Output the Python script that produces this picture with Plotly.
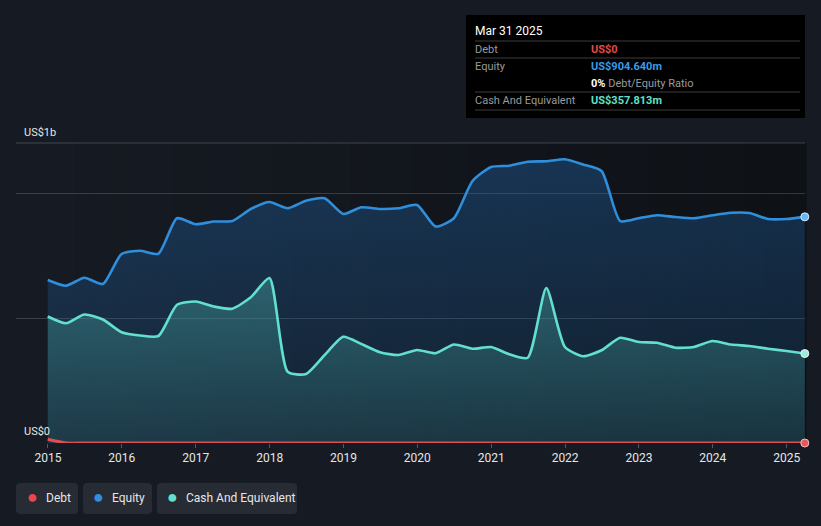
import plotly.graph_objects as go
import pandas as pd

# ---------------- data ----------------
dates = [d.strftime("%Y-%m-%d") for d in pd.date_range("2014-12-31", "2025-03-31", freq="QE")]

equity = [652, 629, 661, 636, 756, 769, 757, 899, 875, 886, 888, 936, 964, 939,
          969, 979, 916, 943, 936, 939, 952, 866, 899, 1048, 1104, 1109, 1125, 1127,
          1135, 1114, 1088, 888, 899, 911, 904, 899, 911, 921, 920, 896, 896, 904.64]

cash = [506, 479, 514, 494, 443, 430, 428, 553, 566, 546, 537, 583, 660, 285,
        276, 352, 425, 396, 363, 352, 372, 359, 394, 377, 384, 355, 341, 620,
        384, 347, 371, 421, 404, 401, 381, 384, 408, 394, 388, 377, 368, 357.813]

debt = [15] + [0] * 41

series_names = ["Debt", "Equity", "Cash And Equivalent"]
year_ticks = [f"{y}-01-01" for y in range(2015, 2026)]
y_labels = ["US$1b", "US$0"]

# ---------------- style ----------------
W, H = 821, 526
L, R, T, B = 16, 16, 143, 83
BG = "#151a23"
EQ_C = "#2f8fdc"
CASH_C = "#62e0cd"
DEBT_C = "#dc4f52"
FONT = "Roboto"


def px(x):
    return (x - L) / (W - L - R)


def py(y):
    return (H - B - y) / (H - T - B)


fig = go.Figure()

fig.add_trace(go.Scatter(
    x=dates, y=equity, mode="lines", name=series_names[1],
    line=dict(color=EQ_C, width=2.6, shape="spline", smoothing=0.6),
    fill="tozeroy",
    fillgradient=dict(type="vertical", start=0, stop=1150,
                      colorscale=[[0, "rgba(30,95,160,0.16)"], [1, "rgba(35,110,185,0.36)"]]),
    hoverinfo="skip"))

fig.add_trace(go.Scatter(
    x=dates, y=cash, mode="lines", name=series_names[2],
    line=dict(color=CASH_C, width=2.6, shape="spline", smoothing=0.6),
    fill="tozeroy",
    fillgradient=dict(type="vertical", start=0, stop=650,
                      colorscale=[[0, "rgba(70,170,165,0.15)"], [1, "rgba(80,190,180,0.36)"]]),
    hoverinfo="skip"))

fig.add_trace(go.Scatter(
    x=dates, y=debt, mode="lines", name=series_names[0],
    line=dict(color=DEBT_C, width=3, shape="spline", smoothing=0.6),
    cliponaxis=False, hoverinfo="skip"))

# end markers
fig.add_trace(go.Scatter(x=[dates[-1]], y=[equity[-1]], mode="markers",
                         marker=dict(color="#6ab6f0", size=8, line=dict(color="#d8ecfb", width=1)),
                         cliponaxis=False, hoverinfo="skip"))
fig.add_trace(go.Scatter(x=[dates[-1]], y=[cash[-1]], mode="markers",
                         marker=dict(color="#9eeadc", size=8, line=dict(color="#e0f8f4", width=1)),
                         cliponaxis=False, hoverinfo="skip"))
fig.add_trace(go.Scatter(x=[dates[-1]], y=[debt[-1]], mode="markers",
                         marker=dict(color="#e8585a", size=8, line=dict(color="#f5c0c0", width=1)),
                         cliponaxis=False, hoverinfo="skip"))

shapes = []
# horizontal gradient plot background
n = 40
c0 = (22, 27, 35)
c1 = (14, 17, 22)
for i in range(n):
    t = i / (n - 1)
    c = tuple(round(c0[k] + (c1[k] - c0[k]) * t) for k in range(3))
    shapes.append(dict(type="rect", xref="paper", yref="paper",
                       x0=i / n, x1=(i + 1) / n + 0.002, y0=0, y1=1,
                       fillcolor=f"rgb{c}", line=dict(width=0), layer="below"))

# top border line of plot area
shapes.append(dict(type="line", xref="paper", yref="paper", x0=0, x1=1, y0=1, y1=1,
                   line=dict(color="rgba(255,255,255,0.2)", width=1), layer="below"))


def rrect(x0, y0, x1, y1, r, color):
    X0, X1 = px(x0), px(x1)
    Y0, Y1 = py(y1), py(y0)
    rx = r / (W - L - R)
    ry = r / (H - T - B)
    path = (f"M {X0+rx},{Y0} L {X1-rx},{Y0} Q {X1},{Y0} {X1},{Y0+ry} "
            f"L {X1},{Y1-ry} Q {X1},{Y1} {X1-rx},{Y1} L {X0+rx},{Y1} "
            f"Q {X0},{Y1} {X0},{Y1-ry} L {X0},{Y0+ry} Q {X0},{Y0} {X0+rx},{Y0} Z")
    return dict(type="path", xref="paper", yref="paper", path=path,
                fillcolor=color, line=dict(width=0), layer="above")


# tooltip box
shapes.append(dict(type="rect", xref="paper", yref="paper",
                   x0=px(466), x1=px(805), y0=py(118), y1=py(15),
                   fillcolor="#000000", line=dict(width=0), layer="above"))
for yy in [41, 58, 92, 110]:
    shapes.append(dict(type="line", xref="paper", yref="paper",
                       x0=px(475), x1=px(800), y0=py(yy), y1=py(yy),
                       line=dict(color="#3c3c3c", width=1), layer="above"))

# legend boxes
legend_boxes = [(16, 78), (83, 152), (157, 297)]
for (a, b) in legend_boxes:
    shapes.append(rrect(a, 483, b, 514, 4, "#262b34"))

annotations = []


def ann(x, y, text, color="#e6e6e6", size=11, anchor="left"):
    annotations.append(dict(x=px(x), y=py(y), xref="paper", yref="paper", text=text,
                            showarrow=False, xanchor=anchor, yanchor="middle",
                            font=dict(color=color, size=size, family=FONT)))


# y labels
ann(22, 133, y_labels[0], "#e6e6e6", 11)
ann(22, 431, y_labels[1], "#e6e6e6", 11)

# tooltip text
ann(473, 31, "Mar 31 2025", "#ffffff", 12)
ann(473, 49, "Debt", "#9a9a9a", 11)
ann(589, 49, "<b>US$0</b>", "#e04a4a", 11)
ann(473, 66, "Equity", "#9a9a9a", 11)
ann(589, 66, "<b>US$904.640m</b>", "#3a9ae8", 11)
ann(589, 83, "<span style='color:#ffffff'><b>0%</b></span> Debt/Equity Ratio", "#9a9a9a", 11)
ann(473, 100, "Cash And Equivalent", "#9a9a9a", 11)
ann(589, 100, "<b>US$357.813m</b>", "#5fe0c8", 11)

# legend
leg = [(32, 44, series_names[0], "#e8474c"),
       (98, 110, series_names[1], "#2f8fdc"),
       (172, 184, series_names[2], "#62e0cd")]
for dx, tx, name, col in leg:
    ann(dx, 496.5, "●", col, 18, "center")
    ann(tx, 497.5, name, "#e6e6e6", 12)

fig.update_layout(
    width=W, height=H,
    margin=dict(l=L, r=R, t=T, b=B),
    paper_bgcolor=BG, plot_bgcolor=BG,
    showlegend=False,
    shapes=shapes, annotations=annotations,
    font=dict(family=FONT, color="#e6e6e6"),
    xaxis=dict(type="date", range=["2014-07-27", "2025-04-01"],
               tickvals=year_ticks, tickformat="%Y",
               showgrid=False, zeroline=False, showline=False,
               ticks="outside", ticklen=4, tickcolor="#555a62",
               tickfont=dict(size=12, color="#e6e6e6", family=FONT)),
    yaxis=dict(range=[0, 1200], tickvals=[0, 500, 1000],
               showticklabels=False, showgrid=True, gridcolor="rgba(255,255,255,0.16)",
               gridwidth=1, zeroline=False, showline=False, fixedrange=True),
)

fig.write_html(
    "out.html",
    config={"displayModeBar": False},
    post_script="document.body.style.margin='0';document.body.style.background='#151a23';"
)
